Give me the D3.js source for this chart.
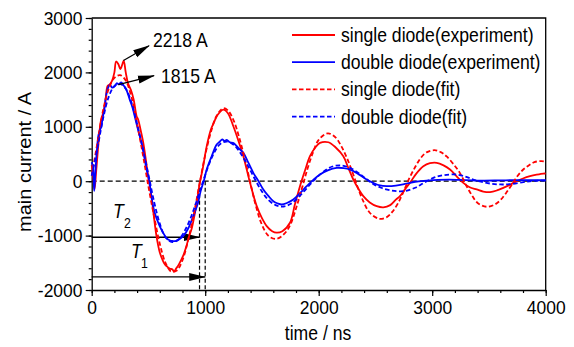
<!DOCTYPE html>
<html>
<head>
<meta charset="utf-8">
<script src="https://cdn.jsdelivr.net/npm/d3@7"></script>
<style>
  body { margin: 0; background: #fff; }
  svg { display: block; font-family: "Liberation Sans", Arial, sans-serif; }
</style>
</head>
<body>
<div id="chart"></div>
<script>
// time (ns) / current (A)
var redExpT = [0, 15, 25, 40, 60, 80, 100, 120, 140, 160, 180, 200, 215, 235, 252, 270, 282, 300, 320, 345, 370, 395, 410, 430, 455, 480, 500, 525, 545, 570, 600, 625, 645, 670, 690, 710, 725, 745, 760, 790, 810, 835, 860, 880, 920, 950, 980, 1013, 1050, 1075, 1110, 1160, 1200, 1248, 1290, 1336, 1395, 1454, 1500, 1542, 1590, 1630, 1680, 1747, 1790, 1835, 1880, 1923, 1970, 2011, 2085, 2150, 2217, 2260, 2305, 2350, 2393, 2450, 2511, 2570, 2630, 2680, 2716, 2760, 2804, 2860, 2922, 2980, 3040, 3100, 3157, 3215, 3274, 3330, 3392, 3450, 3509, 3570, 3626, 3690, 3744, 3800, 3862, 3920, 3980, 4000]
var redExpV = [300, 50, -150, 200, 700, 1100, 1250, 1450, 1750, 1780, 1850, 2000, 2200, 2150, 2060, 2150, 2218, 2000, 1800, 1680, 1500, 1200, 1130, 950, 700, 350, 50, -250, -600, -1000, -1310, -1450, -1530, -1580, -1610, -1620, -1660, -1600, -1560, -1440, -1350, -1190, -1000, -880, -460, -60, 250, 640, 950, 1070, 1220, 1316, 1250, 1010, 760, 459, -30, -459, -680, -826, -920, -947, -920, -764, -430, -92, 200, 459, 620, 704, 716, 620, 459, 250, 31, -140, -275, -390, -459, -480, -440, -340, -275, -150, -30, 140, 275, 330, 337, 290, 215, 90, -30, -110, -152, -190, -201, -170, -122, -60, 0, 50, 92, 120, 141, 140]

var blueExpT = [0, 12, 22, 32, 45, 60, 75, 85, 95, 110, 125, 145, 160, 180, 202, 220, 240, 260, 285, 305, 335, 360, 379, 408, 430, 452, 480, 510, 525, 555, 599, 630, 657, 690, 716, 740, 760, 790, 819, 850, 878, 910, 937, 960, 990, 1013, 1057, 1101, 1130, 1150, 1170, 1190, 1218, 1250, 1292, 1336, 1380, 1424, 1470, 1512, 1560, 1600, 1640, 1674, 1720, 1776, 1830, 1894, 1950, 2011, 2080, 2159, 2220, 2276, 2350, 2423, 2480, 2540, 2600, 2680, 2760, 2850, 2950, 3050, 3150, 3300, 3450, 3600, 3750, 3900, 4000]
var blueExpV = [350, 250, -180, 150, 550, 850, 950, 1000, 1150, 1300, 1550, 1720, 1775, 1720, 1743, 1800, 1780, 1815, 1750, 1683, 1500, 1350, 1193, 948, 780, 582, 250, -30, -275, -580, -826, -950, -1040, -1090, -1100, -1100, -1083, -1040, -978, -870, -734, -560, -396, -180, 20, 215, 459, 673, 730, 770, 740, 760, 716, 700, 612, 521, 340, 154, 0, -152, -280, -367, -410, -428, -400, -336, -230, -92, 20, 123, 200, 245, 240, 214, 130, 31, -30, -79, -90, -80, -50, -10, 10, 25, 30, 20, 10, 15, 20, 20, 20]

var redFitT = [0, 50, 100, 150, 200, 250, 300, 350, 400, 450, 500, 550, 600, 650, 700, 750, 800, 850, 900, 950, 1000, 1050, 1100, 1160, 1200, 1250, 1300, 1350, 1400, 1450, 1500, 1560, 1630, 1700, 1750, 1800, 1850, 1900, 1950, 2000, 2080, 2150, 2200, 2250, 2300, 2350, 2400, 2450, 2530, 2600, 2650, 2700, 2750, 2800, 2850, 2900, 2950, 3020, 3080, 3130, 3200, 3250, 3300, 3350, 3400, 3480, 3550, 3600, 3650, 3700, 3750, 3800, 3850, 3900, 3960, 4000]
var redFitV = [100, 700, 1300, 1700, 1900, 1950, 1850, 1550, 1050, 500, -100, -650, -1150, -1500, -1660, -1640, -1450, -1080, -600, -50, 480, 900, 1200, 1340, 1300, 1120, 800, 400, -50, -480, -800, -1010, -1060, -960, -800, -500, -150, 220, 530, 760, 880, 800, 640, 420, 150, -150, -400, -580, -690, -660, -560, -400, -180, 60, 260, 430, 530, 570, 530, 450, 280, 130, -80, -260, -400, -470, -430, -350, -220, -70, 90, 210, 290, 350, 370, 360]

var blueFitT = [0, 50, 100, 150, 200, 250, 300, 350, 400, 450, 500, 550, 600, 650, 710, 770, 830, 880, 930, 980, 1030, 1080, 1130, 1190, 1250, 1300, 1350, 1400, 1450, 1500, 1550, 1620, 1690, 1750, 1800, 1860, 1920, 1980, 2050, 2120, 2200, 2280, 2350, 2420, 2480, 2550, 2640, 2750, 2850, 2920, 3010, 3100, 3216, 3300, 3362, 3430, 3509, 3600, 3680, 3803, 3900, 4000]
var blueFitV = [100, 600, 1150, 1550, 1750, 1790, 1700, 1450, 1050, 600, 120, -380, -780, -1030, -1120, -1060, -870, -630, -330, -10, 290, 530, 680, 730, 670, 550, 380, 190, -10, -190, -330, -440, -465, -420, -340, -210, -70, 60, 190, 270, 290, 240, 150, 40, -50, -120, -170, -183, -120, -40, 61, 110, 122, 80, 31, -10, -43, -60, -55, -18, 5, 10]

var xTicks = [0, 1000, 2000, 3000, 4000]
var yTicks = [-2000, -1000, 0, 1000, 2000, 3000]

var seriesNames = ["single diode(experiment)", "double diode(experiment)", "single diode(fit)", "double diode(fit)"]
var peakLabels = ["2218 A", "1815 A"]

var width = 574, height = 347
var plotL = 91.7, plotR = 545.7, plotT = 18, plotB = 290

var svg = d3.select("#chart").append("svg")
    .attr("width", width)
    .attr("height", height)

var x = d3.scaleLinear().domain([0, 4000]).range([plotL, plotR])
var y = d3.scaleLinear().domain([-2000, 3000]).range([plotB, plotT])

// arrow head
svg.append("defs").append("marker")
    .attr("id", "head")
    .attr("markerUnits", "userSpaceOnUse")
    .attr("viewBox", "0 -5 17 10")
    .attr("refX", 16).attr("refY", 0)
    .attr("markerWidth", 17).attr("markerHeight", 10)
    .attr("orient", "auto")
  .append("path")
    .attr("d", "M0,-4 L17,0 L0,4 Z")
    .attr("fill", "#000")

// frame top / right
svg.append("path")
    .attr("d", `M${plotL},${plotT} H${plotR} V${plotB}`)
    .attr("fill", "none").attr("stroke", "#000").attr("stroke-width", 1.3)

// minor ticks
svg.append("g")
    .attr("transform", `translate(0,${plotB})`)
    .call(d3.axisBottom(x).tickValues(d3.range(0, 4001, 200)).tickSize(3).tickSizeOuter(0).tickFormat(""))
    .call(g => g.select(".domain").remove())
svg.append("g")
    .attr("transform", `translate(${plotL},0)`)
    .call(d3.axisLeft(y).tickValues(d3.range(-2000, 3001, 200)).tickSize(3).tickSizeOuter(0).tickFormat(""))
    .call(g => g.select(".domain").remove())

// major axes
var xAxis = svg.append("g")
    .attr("transform", `translate(0,${plotB})`)
    .call(d3.axisBottom(x).tickValues(xTicks).tickSize(6).tickSizeOuter(0).tickPadding(5).tickFormat(d3.format("d")))
var yAxis = svg.append("g")
    .attr("transform", `translate(${plotL},0)`)
    .call(d3.axisLeft(y).tickValues(yTicks).tickSize(6).tickSizeOuter(0).tickPadding(4).tickFormat(d3.format("d")))

svg.selectAll(".tick line").attr("stroke-width", 1.2)
svg.selectAll(".domain").attr("stroke-width", 1.3)
;[xAxis, yAxis].forEach(a => {
    a.selectAll("text")
        .attr("font-size", 19)
        .attr("font-family", "'Liberation Sans', Arial, sans-serif")
        .attr("fill", "#000")
        .attr("transform", "scale(0.92,1)")
})
yAxis.selectAll("text").text(d => d < 0 ? "-" + Math.abs(d) : d)

// zero line
svg.append("line")
    .attr("x1", x(0)).attr("x2", x(4000))
    .attr("y1", y(0)).attr("y2", y(0))
    .attr("stroke", "#000").attr("stroke-width", 1.3)
    .attr("stroke-dasharray", "5,3")

// period markers
var periodEnd = [950, 1000]
var periodLevel = [-1030, -1760]
periodEnd.forEach(function(t) {
    svg.append("line")
        .attr("x1", x(t)).attr("x2", x(t))
        .attr("y1", y(0)).attr("y2", y(-2000))
        .attr("stroke", "#000").attr("stroke-width", 1.2)
        .attr("stroke-dasharray", "4,2.5")
})
periodEnd.forEach(function(t, i) {
    svg.append("line")
        .attr("x1", x(0)).attr("x2", x(t))
        .attr("y1", y(periodLevel[i])).attr("y2", y(periodLevel[i]))
        .attr("stroke", "#000").attr("stroke-width", 1.3)
        .attr("marker-end", "url(#head)")
})

// curves
function drawLine(ts, vs, color, dash) {
    var pts = ts.map((t, i) => [t, vs[i]])
    svg.append("path")
        .datum(pts)
        .attr("fill", "none")
        .attr("stroke", color)
        .attr("stroke-width", 1.8)
        .attr("stroke-dasharray", dash)
        .attr("d", d3.line().x(d => x(d[0])).y(d => y(d[1])).curve(d3.curveCatmullRom.alpha(0.5)))
}
drawLine(redExpT, redExpV, "#ff0000", null)
drawLine(blueExpT, blueExpV, "#0000ff", null)
drawLine(redFitT, redFitV, "#ff0000", "4.5,2.5")
drawLine(blueFitT, blueFitV, "#0000ff", "4.5,2.5")

// text helper (the figure is slightly squeezed horizontally)
function label(px, py, txt, size, extra) {
    var t = svg.append("text")
        .attr("transform", `translate(${px},${py}) ${extra || "scale(0.88,1)"}`)
        .attr("font-size", size)
        .attr("fill", "#000")
        .text(txt)
    return t
}

// T labels
label(113, 218, "T", 20).attr("font-style", "italic")
label(124, 228, "2", 14)
label(131, 258, "T", 20).attr("font-style", "italic")
label(141, 268, "1", 14)

// peak annotations
var peakFrom = [[280, 2218], [235, 1775]]
var peakTo = [[505, 2490], [549, 1939]]
peakFrom.forEach(function(p, i) {
    svg.append("line")
        .attr("x1", x(p[0])).attr("y1", y(p[1]))
        .attr("x2", x(peakTo[i][0])).attr("y2", y(peakTo[i][1]))
        .attr("stroke", "#000").attr("stroke-width", 1.3)
        .attr("marker-end", "url(#head)")
})
label(153, 46.5, peakLabels[0], 20)
label(161, 82.5, peakLabels[1], 20)

// legend
var legColor = ["#ff0000", "#0000ff", "#ff0000", "#0000ff"]
var legDash = [null, null, "4.5,2.5", "4.5,2.5"]
seriesNames.forEach(function(name, i) {
    var ly = 35 + i * 27.2
    svg.append("line")
        .attr("x1", 292).attr("x2", 335)
        .attr("y1", ly).attr("y2", ly)
        .attr("stroke", legColor[i]).attr("stroke-width", 1.8)
        .attr("stroke-dasharray", legDash[i])
    label(341, ly + 7, name, 20)
})

// axis titles
label(318, 340, "time / ns", 20).attr("text-anchor", "middle")
label(31, 162, "main current / A", 20, "rotate(-90) scale(1,0.88)").attr("text-anchor", "middle")
</script>
</body>
</html>
